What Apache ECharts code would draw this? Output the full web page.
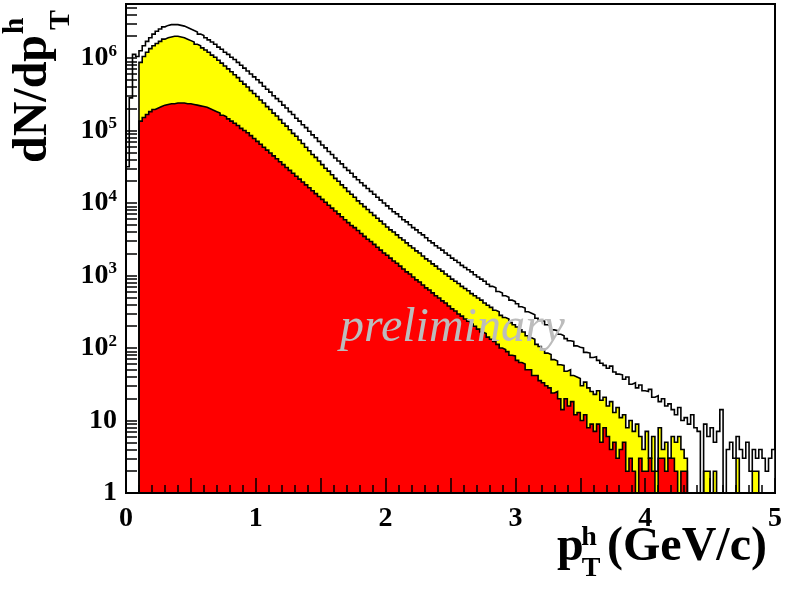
<!DOCTYPE html>
<html>
<head>
<meta charset="utf-8">
<script src="https://cdn.jsdelivr.net/npm/echarts@6/dist/echarts.min.js"></script>
<style>
  html, body { margin: 0; padding: 0; background: #fff; }
  #chart { width: 788px; height: 592px; }
</style>
</head>
<body>
<div id="chart"></div>
<script>
// histogram binning (GeV/c)
var binWidth = 0.025
var firstEdge = 0.1

// log10(dN/dpT) per bin, null = empty bin
// all hadrons: four extra bins between 0 and 0.1
var allLowLog = [4.50, 5.45, 6.05, 6.02]
var allLog = [
  6.10, 6.17, 6.23, 6.28, 6.33, 6.37, 6.40, 6.43, 6.45, 6.46, 6.46, 6.46,
  6.45, 6.44, 6.42, 6.40, 6.38, 6.36, 6.33, 6.31, 6.28, 6.25, 6.22, 6.19,
  6.15, 6.12, 6.08, 6.05, 6.01, 5.98, 5.94, 5.90, 5.86, 5.82, 5.78, 5.74,
  5.70, 5.66, 5.61, 5.57, 5.53, 5.48, 5.44, 5.40, 5.35, 5.31, 5.26, 5.22,
  5.17, 5.13, 5.08, 5.04, 4.99, 4.94, 4.90, 4.85, 4.80, 4.76, 4.71, 4.67,
  4.62, 4.58, 4.54, 4.49, 4.45, 4.41, 4.36, 4.32, 4.28, 4.24, 4.20, 4.16,
  4.12, 4.08, 4.04, 4.00, 3.96, 3.92, 3.88, 3.85, 3.81, 3.77, 3.74, 3.70,
  3.66, 3.63, 3.59, 3.56, 3.52, 3.48, 3.45, 3.41, 3.38, 3.35, 3.31, 3.28,
  3.24, 3.21, 3.18, 3.14, 3.11, 3.08, 3.05, 3.01, 2.98, 2.95, 2.92, 2.88,
  2.85, 2.83, 2.78, 2.76, 2.72, 2.70, 2.66, 2.64, 2.61, 2.57, 2.55, 2.50,
  2.48, 2.46, 2.41, 2.38, 2.37, 2.32, 2.30, 2.25, 2.24, 2.19, 2.17, 2.13,
  2.10, 2.09, 2.03, 2.01, 2.00, 1.94, 1.93, 1.87, 1.88, 1.83, 1.79, 1.76,
  1.72, 1.75, 1.67, 1.64, 1.63, 1.57, 1.60, 1.50, 1.52, 1.45, 1.49, 1.41,
  1.40, 1.43, 1.32, 1.34, 1.26, 1.30, 1.20, 1.23, 1.15, 1.08, 1.18, 1.00,
  1.04, 0.95, 1.08, 0.90, 0.85, null, 0.95, 0.78, 0.90, 0.70, 0.85, 1.15,
  null, 0.60, 0.70, 0.48, 0.78, 0.60, 0.48, 0.70, 0.30, 0.60, 0.48, 0.60,
  0.48, 0.30, 0.48, 0.60
]
var yellowLog = [
  5.94, 6.02, 6.08, 6.13, 6.17, 6.20, 6.23, 6.26, 6.28, 6.29, 6.30, 6.30,
  6.29, 6.28, 6.26, 6.24, 6.22, 6.19, 6.17, 6.14, 6.11, 6.08, 6.04, 6.01,
  5.97, 5.93, 5.89, 5.85, 5.81, 5.77, 5.73, 5.68, 5.64, 5.60, 5.55, 5.51,
  5.47, 5.42, 5.38, 5.33, 5.29, 5.24, 5.20, 5.15, 5.10, 5.06, 5.01, 4.96,
  4.92, 4.87, 4.82, 4.77, 4.72, 4.67, 4.63, 4.58, 4.53, 4.48, 4.44, 4.39,
  4.34, 4.30, 4.25, 4.21, 4.16, 4.12, 4.08, 4.03, 3.99, 3.95, 3.91, 3.87,
  3.83, 3.79, 3.75, 3.71, 3.67, 3.63, 3.60, 3.56, 3.52, 3.49, 3.45, 3.41,
  3.38, 3.34, 3.31, 3.27, 3.23, 3.20, 3.16, 3.13, 3.09, 3.06, 3.02, 2.99,
  2.95, 2.92, 2.89, 2.85, 2.82, 2.79, 2.75, 2.72, 2.69, 2.66, 2.62, 2.59,
  2.56, 2.52, 2.50, 2.45, 2.42, 2.40, 2.35, 2.32, 2.29, 2.25, 2.22, 2.17,
  2.14, 2.12, 2.05, 2.02, 1.98, 1.93, 1.91, 1.84, 1.82, 1.77, 1.76, 1.68,
  1.70, 1.62, 1.60, 1.58, 1.48, 1.53, 1.45, 1.40, 1.36, 1.41, 1.28, 1.32,
  1.20, 1.26, 1.11, 1.18, 1.04, 1.08, 0.90, 1.00, 0.85, 0.95, 0.78, 0.60,
  0.85, 0.48, 0.78, 0.30, 0.90, 0.60, 0.70, 0.48, 0.78, 0.70, 0.78, 0.60,
  0.48, null, null, null, null, null, 0.30, 0.30, null, 0.30, null, null,
  null, null, null, null, 0.48, null, null, null, null, 0.30, 0.30, null,
  null, null, null, null
]
var redLog = [
  5.13, 5.18, 5.22, 5.26, 5.29, 5.31, 5.33, 5.35, 5.36, 5.37, 5.37, 5.38,
  5.38, 5.38, 5.37, 5.37, 5.36, 5.35, 5.34, 5.33, 5.32, 5.30, 5.28, 5.26,
  5.24, 5.21, 5.19, 5.16, 5.13, 5.10, 5.07, 5.03, 5.00, 4.97, 4.93, 4.89,
  4.85, 4.81, 4.77, 4.73, 4.69, 4.65, 4.61, 4.57, 4.53, 4.49, 4.45, 4.41,
  4.37, 4.33, 4.29, 4.25, 4.21, 4.17, 4.13, 4.09, 4.05, 4.01, 3.97, 3.93,
  3.89, 3.85, 3.81, 3.77, 3.73, 3.69, 3.66, 3.62, 3.58, 3.54, 3.50, 3.47,
  3.43, 3.39, 3.35, 3.31, 3.28, 3.24, 3.20, 3.17, 3.13, 3.09, 3.05, 3.02,
  2.98, 2.94, 2.91, 2.87, 2.83, 2.80, 2.76, 2.72, 2.69, 2.65, 2.62, 2.58,
  2.54, 2.51, 2.47, 2.44, 2.40, 2.37, 2.33, 2.30, 2.26, 2.22, 2.20, 2.15,
  2.12, 2.09, 2.05, 2.00, 1.98, 1.95, 1.90, 1.89, 1.83, 1.80, 1.78, 1.70,
  1.70, 1.62, 1.62, 1.55, 1.52, 1.48, 1.45, 1.38, 1.40, 1.30, 1.15, 1.30,
  1.20, 1.26, 1.08, 1.11, 1.00, 1.08, 0.90, 0.95, 0.85, 0.95, 0.70, 0.90,
  0.78, 0.60, 0.70, 0.48, 0.60, 0.70, 0.30, 0.48, 0.30, null, 0.48, 0.30,
  0.30, 0.48, 0.30, null, 0.48, 0.48, 0.30, 0.48, 0.48, 0.30, null, 0.30,
  0.30, null, null, null, null, null, null, null, null, null, null, null,
  null, null, null, null, null, null, null, null, null, null, null, null,
  null, null, null, null
]

var xTicks = [0, 1, 2, 3, 4, 5]
var yDecades = [1, 10, 100, 1000, 10000, 100000, 1000000]

var serif = 'Liberation Serif'
var emptyValue = 0.1 // below the axis minimum, so the step drops out of the frame

// step points at lower bin edges, closed on both sides
function histData (start, logs) {
  var pts = [[start, emptyValue]]
  logs.forEach(function (v, i) {
    pts.push([+(start + i * binWidth).toFixed(4), v === null ? emptyValue : Math.pow(10, v)])
  })
  pts.push([+(start + logs.length * binWidth).toFixed(4), emptyValue])
  return pts
}

function histSeries (name, data, fill) {
  return {
    name: name,
    type: 'line',
    step: 'end',
    data: data,
    symbol: 'none',
    clip: true,
    lineStyle: { color: '#000', width: 1.6, join: 'miter' },
    areaStyle: { color: fill, opacity: 1 },
    silent: true
  }
}

var minorY = []
yDecades.forEach(function (d) {
  for (var k = 1; k < 10; k++) {
    if (k * d < 5.6e6) minorY.push(k * d)
  }
})

var myChart = echarts.init(document.getElementById('chart'))
var option = {
  animation: false,
  backgroundColor: '#fff',
  grid: {
    left: 126,
    right: 13,
    top: 4,
    bottom: 99,
    show: true,
    borderColor: '#000',
    borderWidth: 2,
    backgroundColor: 'transparent'
  },
  xAxis: {
    type: 'value',
    min: 0,
    max: 5,
    interval: 1,
    z: 10,
    axisLine: { show: true, onZero: false, lineStyle: { color: '#000', width: 2 } },
    axisTick: {
      inside: true,
      length: 15,
      customValues: [0, 0.5, 1, 1.5, 2, 2.5, 3, 3.5, 4, 4.5, 5],
      lineStyle: { color: '#000', width: 1.5 }
    },
    minorTick: { show: true, splitNumber: 10, length: 8, lineStyle: { color: '#000', width: 1.5 } },
    splitLine: { show: false },
    axisLabel: {
      margin: 12,
      color: '#000',
      fontFamily: serif,
      fontWeight: 'bold',
      fontSize: 28,
      showMinLabel: true,
      showMaxLabel: true,
      customValues: xTicks
    }
  },
  yAxis: {
    type: 'log',
    logBase: 10,
    min: 1,
    max: 5.56e6,
    z: 10,
    axisLine: { show: true, lineStyle: { color: '#000', width: 2 } },
    axisTick: { inside: true, length: 11, customValues: minorY, lineStyle: { color: '#000', width: 1.5 } },
    splitLine: { show: false },
    axisLabel: {
      margin: 9,
      customValues: yDecades,
      formatter: function (v) {
        if (v < 5) return '{b|1}'
        if (v < 50) return '{b|10}'
        return '{b|10}{e|' + Math.round(Math.log10(v)) + '}'
      },
      rich: {
        b: { fontFamily: serif, fontWeight: 'bold', fontSize: 28, lineHeight: 30, color: '#000' },
        e: { fontFamily: serif, fontWeight: 'bold', fontSize: 17, lineHeight: 17, verticalAlign: 'top', color: '#000' }
      }
    }
  },
  series: [
    histSeries('all', histData(0, allLowLog.concat(allLog)), '#ffffff'),
    histSeries('yellow', histData(firstEdge, yellowLog), '#ffff00'),
    histSeries('red', histData(firstEdge, redLog), '#ff0000')
  ],
  graphic: [
    {
      type: 'text', x: 34, y: 99, rotation: Math.PI / 2, z: 20,
      style: { text: 'dN/dp', x: 0, y: 0, align: 'center', verticalAlign: 'middle', font: 'bold 48px "Liberation Serif"', fill: '#000' }
    },
    {
      type: 'text', x: 15, y: 26, rotation: Math.PI / 2, z: 20,
      style: { text: 'h', x: 0, y: 0, align: 'center', verticalAlign: 'middle', font: 'bold 30px "Liberation Serif"', fill: '#000' }
    },
    {
      type: 'text', x: 61, y: 20, rotation: Math.PI / 2, z: 20,
      style: { text: 'T', x: 0, y: 0, align: 'center', verticalAlign: 'middle', font: 'bold 30px "Liberation Serif"', fill: '#000' }
    },
    {
      type: 'text', x: 557, y: 548, z: 20,
      style: { text: 'p', x: 0, y: 0, align: 'left', verticalAlign: 'middle', font: 'bold 48px "Liberation Serif"', fill: '#000' }
    },
    {
      type: 'text', x: 589, y: 538, z: 20,
      style: { text: 'h', x: 0, y: 0, align: 'center', verticalAlign: 'middle', font: 'bold 28px "Liberation Serif"', fill: '#000' }
    },
    {
      type: 'text', x: 591, y: 569, z: 20,
      style: { text: 'T', x: 0, y: 0, align: 'center', verticalAlign: 'middle', font: 'bold 28px "Liberation Serif"', fill: '#000' }
    },
    {
      type: 'text', x: 607, y: 548, z: 20,
      style: { text: '(GeV/c)', x: 0, y: 0, align: 'left', verticalAlign: 'middle', font: 'bold 48px "Liberation Serif"', fill: '#000' }
    },
    {
      type: 'text', x: 340, y: 328, z: 20,
      style: { text: 'preliminary', x: 0, y: 0, align: 'left', verticalAlign: 'middle', font: 'italic 48px "Liberation Serif"', fill: '#bcbcbc' }
    }
  ]
}
myChart.setOption(option)
</script>
</body>
</html>
